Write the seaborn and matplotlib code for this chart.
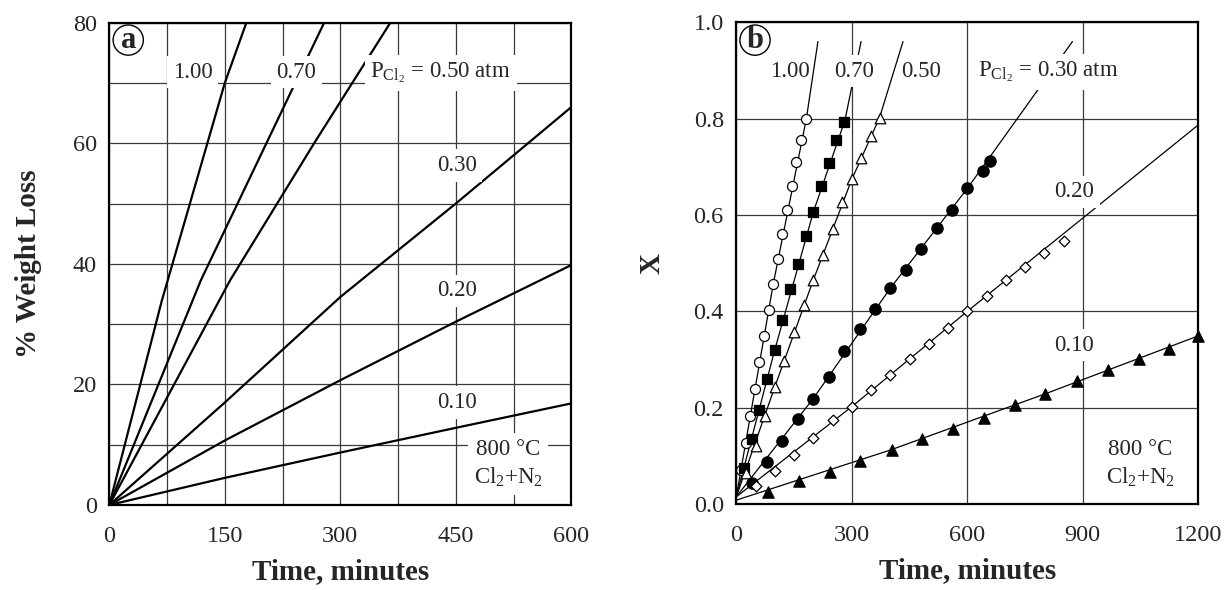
import matplotlib
matplotlib.use('Agg')
import matplotlib.pyplot as plt
from matplotlib.ticker import MultipleLocator
import seaborn as sns

# ---- panel a: % weight loss vs time (curves)
a_time = {
    '1.00': [0, 68, 150, 178],
    '0.70': [0, 119, 204, 279],
    '0.50': [0, 157, 266, 365],
    '0.30': [0, 150, 300, 450, 600],
    '0.20': [0, 150, 300, 450, 600],
    '0.10': [0, 150, 300, 450, 600],
}
a_loss = {
    '1.00': [0, 33.8, 70, 80],
    '0.70': [0, 37.3, 60, 80],
    '0.50': [0, 37.3, 60, 80],
    '0.30': [0, 17, 34.5, 50, 66],
    '0.20': [0, 10.7, 20.7, 30.4, 39.8],
    '0.10': [0, 4.5, 8.7, 12.8, 16.85],
}

# ---- panel b: conversion X vs time, measured points
t_100 = [12, 24, 36, 48, 60, 72, 84, 96, 108, 120, 132, 144, 156, 168, 182]
x_100 = [0.071, 0.127, 0.183, 0.239, 0.294, 0.349, 0.403, 0.457, 0.508, 0.560,
         0.610, 0.660, 0.710, 0.755, 0.800]
t_070 = [20, 40, 60, 80, 100, 120, 140, 160, 180, 200, 220, 240, 260, 280]
x_070 = [0.075, 0.134, 0.195, 0.259, 0.320, 0.381, 0.446, 0.498, 0.557, 0.606,
         0.660, 0.708, 0.755, 0.794]
t_050 = [25, 50, 75, 100, 125, 150, 175, 200, 225, 250, 275, 300, 325, 350, 372]
x_050 = [0.064, 0.120, 0.182, 0.243, 0.297, 0.358, 0.413, 0.465, 0.517, 0.571,
         0.626, 0.674, 0.718, 0.764, 0.802]
t_030 = [40, 80, 120, 160, 200, 240, 280, 320, 360, 400, 440, 480, 520, 560, 600, 640, 660]
x_030 = [0.043, 0.087, 0.131, 0.176, 0.219, 0.264, 0.317, 0.363, 0.404, 0.448,
         0.485, 0.530, 0.572, 0.610, 0.655, 0.691, 0.713]
t_020 = [50, 100, 150, 200, 250, 300, 350, 400, 450, 500, 550, 600, 650, 700, 750, 800, 850]
x_020 = [0.037, 0.069, 0.102, 0.136, 0.174, 0.202, 0.237, 0.268, 0.302, 0.333,
         0.366, 0.400, 0.432, 0.464, 0.491, 0.522, 0.547]
t_010 = [82, 162, 244, 322, 405, 482, 564, 643, 724, 803, 886, 965, 1045, 1123, 1200]
x_010 = [0.024, 0.048, 0.067, 0.089, 0.112, 0.134, 0.155, 0.179, 0.206, 0.228,
         0.256, 0.278, 0.300, 0.322, 0.349]

# model lines drawn through the points in panel b
fit_t = {
    '1.00': [0, 96, 182, 212],
    '0.70': [0, 100, 200, 282, 324],
    '0.50': [0, 100, 200, 300, 372, 433],
    '0.30': [0, 200, 400, 600, 873],
    '0.20': [0, 300, 600, 1200],
    '0.10': [0, 400, 800, 1200],
}
fit_x = {
    '1.00': [0.015, 0.457, 0.800, 0.960],
    '0.70': [0.015, 0.320, 0.606, 0.796, 0.960],
    '0.50': [0.015, 0.243, 0.465, 0.674, 0.802, 0.960],
    '0.30': [0.015, 0.219, 0.448, 0.655, 0.960],
    '0.20': [0.015, 0.202, 0.400, 0.787],
    '0.10': [0.008, 0.112, 0.228, 0.349],
}

sns.set_style('white')
plt.rcParams['font.family'] = ['Liberation Serif', 'DejaVu Serif']
plt.rcParams['mathtext.default'] = 'regular'

fig = plt.figure(figsize=(12.26, 5.9), dpi=100)
ax1 = fig.add_axes([0.08915, 0.14407, 0.37684, 0.81746])
ax2 = fig.add_axes([0.60057, 0.14576, 0.37684, 0.81644])

box = dict(boxstyle='square,pad=0.25', fc='white', ec='none')
lab_fs = 16.5

# ---------------- panel a
for p in a_time:
    sns.lineplot(x=a_time[p], y=a_loss[p], ax=ax1, color='black', lw=1.6,
                 sort=False, estimator=None, zorder=2)

ax1.set_xlim(0, 600)
ax1.set_ylim(0, 80)
ax1.xaxis.set_major_locator(MultipleLocator(150))
ax1.xaxis.set_minor_locator(MultipleLocator(75))
ax1.yaxis.set_major_locator(MultipleLocator(20))
ax1.yaxis.set_minor_locator(MultipleLocator(10))
ax1.set_xlabel('Time, minutes', fontsize=21, fontweight='bold', labelpad=8)
ax1.set_ylabel('% Weight Loss', fontsize=21, fontweight='bold', labelpad=22)

ax1.text(108, 70.9, '1.00', fontsize=lab_fs, ha='center', va='baseline', bbox=box, zorder=5)
ax1.text(243, 70.9, '0.70', fontsize=lab_fs, ha='center', va='baseline', bbox=box, zorder=5)
ax1.text(339, 70.9, r'P$_{\mathregular{Cl}_2}$ = 0.50 atm', fontsize=lab_fs, ha='left',
         va='baseline', bbox=box, zorder=5)
ax1.text(451, 56.3, '0.30', fontsize=lab_fs, ha='center', va='center', bbox=box, zorder=5)
ax1.text(451, 35.5, '0.20', fontsize=lab_fs, ha='center', va='center', bbox=box, zorder=5)
ax1.text(451, 17.0, '0.10', fontsize=lab_fs, ha='center', va='center', bbox=box, zorder=5)
ax1.text(518, 6.8, '800 °C\nCl$_2$+N$_2$', fontsize=lab_fs, ha='center', va='center',
         linespacing=1.35, bbox=box, zorder=5)
ax1.text(0.041, 0.964, 'a', transform=ax1.transAxes, fontsize=22, fontweight='bold',
         ha='center', va='center', zorder=6,
         bbox=dict(boxstyle='circle,pad=0.02', fc='white', ec='black', lw=1.0))

# ---------------- panel b
for p in fit_t:
    sns.lineplot(x=fit_t[p], y=fit_x[p], ax=ax2, color='black', lw=0.9,
                 sort=False, estimator=None, zorder=2)

mk = dict(ax=ax2, edgecolor='black', linewidth=0.9, zorder=4, clip_on=False, legend=False)
sns.scatterplot(x=t_100, y=x_100, marker='o', s=52, color='white', **mk)
sns.scatterplot(x=t_070, y=x_070, marker='s', s=50, color='black', **mk)
sns.scatterplot(x=t_050, y=x_050, marker='^', s=58, color='white', **mk)
sns.scatterplot(x=t_030, y=x_030, marker='o', s=66, color='black', **mk)
sns.scatterplot(x=t_020, y=x_020, marker='D', s=30, color='white', **mk)
sns.scatterplot(x=t_010, y=x_010, marker='^', s=66, color='black', **mk)

ax2.set_xlim(0, 1200)
ax2.set_ylim(0, 1.0)
ax2.xaxis.set_major_locator(MultipleLocator(300))
ax2.yaxis.set_major_locator(MultipleLocator(0.2))
ax2.set_xlabel('Time, minutes', fontsize=21, fontweight='bold', labelpad=8)
ax2.set_ylabel('X', fontsize=21, fontweight='bold', labelpad=20)

ax2.text(140, 0.887, '1.00', fontsize=lab_fs, ha='center', va='baseline', zorder=5)
ax2.text(306, 0.887, '0.70', fontsize=lab_fs, ha='center', va='baseline', bbox=box, zorder=5)
ax2.text(480, 0.887, '0.50', fontsize=lab_fs, ha='center', va='baseline', zorder=5)
ax2.text(627, 0.887, r'P$_{\mathregular{Cl}_2}$ = 0.30 atm', fontsize=lab_fs, ha='left',
         va='baseline', bbox=box, zorder=5)
ax2.text(877, 0.648, '0.20', fontsize=lab_fs, ha='center', va='center', bbox=box, zorder=5)
ax2.text(877, 0.330, '0.10', fontsize=lab_fs, ha='center', va='center', bbox=box, zorder=5)
ax2.text(1049, 0.083, '800 °C\nCl$_2$+N$_2$', fontsize=lab_fs, ha='center', va='center',
         linespacing=1.35, bbox=box, zorder=5)
ax2.text(0.0405, 0.963, 'b', transform=ax2.transAxes, fontsize=22, fontweight='bold',
         ha='center', va='center', zorder=6,
         bbox=dict(boxstyle='circle,pad=0.02', fc='white', ec='black', lw=1.0))

for ax in (ax1, ax2):
    ax.set_axisbelow(True)
    ax.grid(which='both', color='#3a3a3a', lw=0.9)
    ax.tick_params(which='both', length=0, labelsize=17.5)
    ax.tick_params(axis='x', pad=15)
    ax.tick_params(axis='y', pad=9)
    for s in ax.spines.values():
        s.set_color('black')
        s.set_linewidth(1.6)
        s.set_zorder(6)

fig.savefig('out.png', dpi=100)
